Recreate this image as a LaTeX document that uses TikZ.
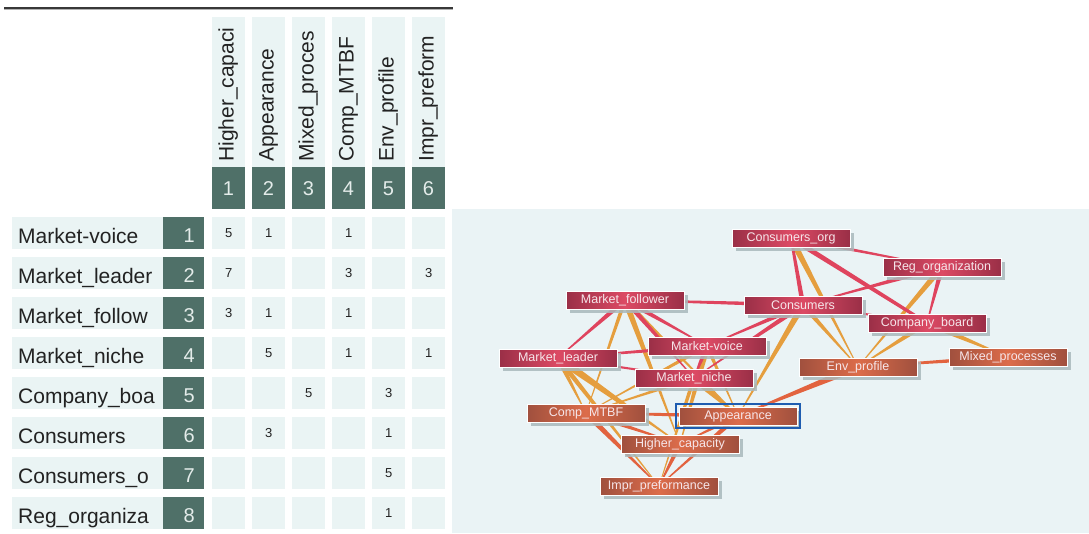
\documentclass[tikz,border=0pt]{standalone}
\usepackage{fontspec}
\setmainfont{Liberation Sans}
\usetikzlibrary{calc,shadows,fit}
\pgfdeclarelayer{panel}
\pgfdeclarelayer{edges}
\pgfsetlayers{panel,edges,main}
\definecolor{cellbg}{HTML}{EAF4F4}
\definecolor{darkbox}{HTML}{4F7068}
\definecolor{digitc}{HTML}{E4ECEA}
\definecolor{panelbg}{HTML}{EAF3F5}
\definecolor{rdark}{HTML}{9A2F47}
\definecolor{rmid}{HTML}{DC4A64}
\definecolor{odark}{HTML}{A0503E}
\definecolor{omid}{HTML}{DC6C4A}
\definecolor{ecross}{HTML}{E59E3E}
\definecolor{ered}{HTML}{DF445E}
\definecolor{eora}{HTML}{E2633F}
\definecolor{ntext}{HTML}{F6E6EA}
\definecolor{selblue}{HTML}{1E5CB0}
\definecolor{shadowc}{HTML}{A9B9BC}
\definecolor{textc}{HTML}{222222}
\newcommand{\tedge}[5]{\fill[#5] ($(#1)!#3!90:(#2)$) -- ($(#2)!#4!-90:(#1)$) -- ($(#2)!#4!90:(#1)$) -- ($(#1)!#3!-90:(#2)$) -- cycle;}
\tikzset{
  cell/.style={fill=cellbg, minimum width=33pt, minimum height=32pt, inner sep=0pt, anchor=north west},
  labcell/.style={fill=cellbg, minimum width=151pt, minimum height=32pt, inner sep=0pt, anchor=north west},
  dbox/.style={fill=darkbox, minimum width=41pt, minimum height=32pt, inner sep=0pt, anchor=north west},
  hcell/.style={fill=cellbg, minimum width=33pt, minimum height=150pt, inner sep=0pt, anchor=north west},
  hbox/.style={fill=darkbox, minimum width=33pt, minimum height=42pt, inner sep=0pt, anchor=north west},
  bigtext/.style={font=\fontsize{21}{24}\selectfont, text=textc, inner sep=0pt},
  digit/.style={font=\fontsize{20}{24}\selectfont, text=digitc, inner sep=0pt},
  numtext/.style={font=\fontsize{13}{16}\selectfont, text=textc, inner sep=0pt},
  gnode/.style={draw=white, line width=0.8pt, minimum width=118pt, minimum height=18pt, inner sep=0pt,
     text=ntext, font=\fontsize{12.5}{12.5}\selectfont,
     drop shadow={shadow xshift=3.5pt, shadow yshift=-3.5pt, fill=shadowc, opacity=0.85}},
  rnode/.style={gnode, left color=rdark, right color=rdark, middle color=rmid},
  onode/.style={gnode, left color=odark, right color=odark, middle color=omid},
}
\begin{document}
\begin{tikzpicture}[x=1pt,y=-1pt]
\useasboundingbox (0,0) rectangle (1089,533);
% top rule
\draw[line width=1.8pt, color=black!78] (4,7.6) -- (452.5,7.6);
\draw[line width=0.9pt, color=black!30] (4,9.4) -- (452.5,9.4);
% column headers
\foreach \c/\t in {1/Higher\_capaci,2/Appearance,3/Mixed\_proces,4/Comp\_MTBF,5/Env\_profile,6/Impr\_preform}{
  \node[hcell] (hc\c) at ({212+40*(\c-1)},17) {};
  \node[hbox] (hb\c) at ({212+40*(\c-1)},167) {};
  \node[digit] (hn\c) at ({228.5+40*(\c-1)},189) {\c};
  \node[bigtext, rotate=90, anchor=base west] (ht\c) at ({233.5+40*(\c-1)},162) {\t};
}
% rows
\foreach \r/\t in {1/Market-voice,2/Market\_leader,3/Market\_follow,4/Market\_niche,5/Company\_boa,6/Consumers,7/Consumers\_o,8/Reg\_organiza}{
  \node[labcell] (lc\r) at (12,{217+40*(\r-1)}) {};
  \node[dbox] (rb\r) at (163,{217+40*(\r-1)}) {};
  \node[bigtext, anchor=base west] (rt\r) at (18,{243+40*(\r-1)}) {\t};
  \node[digit, anchor=base east] (rn\r) at (195,{242+40*(\r-1)}) {\r};
  \foreach \c in {1,...,6}{
    \node[cell] (m\r-\c) at ({212+40*(\c-1)},{217+40*(\r-1)}) {};
  }
}
\foreach \r/\c/\v in {1/1/5,1/2/1,1/4/1,2/1/7,2/4/3,2/6/3,3/1/3,3/2/1,3/4/1,4/2/5,4/4/1,4/6/1,5/3/5,5/5/3,6/2/3,6/5/1,7/5/5,8/5/1}{
  \node[numtext] (v\r-\c) at (m\r-\c) {\v};
}
% graph panel
\begin{pgfonlayer}{panel}
\fill[panelbg] (452,209) rectangle (1089,533);
\end{pgfonlayer}
% graph nodes
\node[rnode] (co) at (791,238) {Consumers\_org};
\node[rnode] (rego) at (942,267) {Reg\_organization};
\node[rnode] (mfol) at (625,300) {Market\_follower};
\node[rnode] (cons) at (803,305) {Consumers};
\node[rnode] (cboard) at (927,323) {Company\_board};
\node[rnode] (mvoice) at (707,346) {Market-voice};
\node[rnode] (mlead) at (558,358) {Market\_leader};
\node[onode] (env) at (858,367) {Env\_profile};
\node[onode] (mixed) at (1008,357) {Mixed\_processes};
\node[rnode] (mniche) at (694,378) {Market\_niche};
\node[onode] (cmtbf) at (586,413) {Comp\_MTBF};
\node[onode] (app) at (738,416) {Appearance};
\node[onode] (hcap) at (680,444) {Higher\_capacity};
\node[onode] (impr) at (659,486) {Impr\_preformance};
\node[draw=selblue, line width=2.2pt, fit=(app), inner sep=2.4pt] (appsel) {};
% edges
\begin{pgfonlayer}{edges}
% cross edges (red node -> orange node)
\tedge{mvoice}{hcap}{3.4pt}{0.4pt}{ecross}
\tedge{mvoice}{app}{2pt}{0.3pt}{ecross}
\tedge{mvoice}{cmtbf}{2pt}{0.3pt}{ecross}
\tedge{mlead}{hcap}{4pt}{0.4pt}{ecross}
\tedge{mlead}{cmtbf}{2.6pt}{0.3pt}{ecross}
\tedge{mlead}{impr}{2.6pt}{0.3pt}{ecross}
\tedge{mfol}{hcap}{3pt}{0.4pt}{ecross}
\tedge{mfol}{app}{2pt}{0.3pt}{ecross}
\tedge{mfol}{cmtbf}{2pt}{0.3pt}{ecross}
\tedge{mniche}{app}{3.8pt}{0.5pt}{ecross}
\tedge{mniche}{cmtbf}{2pt}{0.3pt}{ecross}
\tedge{mniche}{impr}{2pt}{0.3pt}{ecross}
\tedge{cboard}{mixed}{3.2pt}{0.4pt}{ecross}
\tedge{cboard}{env}{2.8pt}{0.3pt}{ecross}
\tedge{cons}{app}{3.2pt}{0.4pt}{ecross}
\tedge{cons}{env}{2.6pt}{0.3pt}{ecross}
\tedge{co}{env}{3.2pt}{0.3pt}{ecross}
\tedge{rego}{env}{3pt}{0.3pt}{ecross}
% red node edges
\tedge{co}{rego}{2pt}{0.5pt}{ered}
\tedge{co}{cboard}{2.6pt}{1.5pt}{ered}
\tedge{cons}{co}{2.4pt}{1.2pt}{ered}
\tedge{rego}{cons}{2.6pt}{0.4pt}{ered}
\tedge{rego}{cboard}{2.6pt}{0.5pt}{ered}
\tedge{cons}{cboard}{1.5pt}{0.6pt}{ered}
\tedge{cons}{mfol}{2.2pt}{0.8pt}{ered}
\tedge{cons}{mvoice}{2.6pt}{0.4pt}{ered}
\tedge{cons}{mniche}{2.6pt}{0.4pt}{ered}
\tedge{mfol}{mlead}{2.6pt}{0.4pt}{ered}
\tedge{mfol}{mvoice}{2.6pt}{0.4pt}{ered}
\tedge{mfol}{mniche}{2.6pt}{0.4pt}{ered}
\tedge{mvoice}{mlead}{2.2pt}{0.6pt}{ered}
\tedge{mlead}{mniche}{1.5pt}{0.6pt}{ered}
\tedge{mvoice}{mniche}{2.6pt}{0.6pt}{ered}
% orange node edges
\tedge{app}{cmtbf}{2.4pt}{0.6pt}{eora}
\tedge{cmtbf}{hcap}{2.6pt}{0.4pt}{eora}
\tedge{cmtbf}{impr}{3pt}{0.4pt}{eora}
\tedge{hcap}{impr}{2.6pt}{0.4pt}{eora}
\tedge{app}{impr}{2.6pt}{0.4pt}{eora}
\tedge{env}{app}{3.6pt}{0.6pt}{eora}
\tedge{mixed}{env}{2.4pt}{0.6pt}{eora}
\tedge{app}{hcap}{2pt}{0.4pt}{eora}
\end{pgfonlayer}
\end{tikzpicture}
\end{document}
